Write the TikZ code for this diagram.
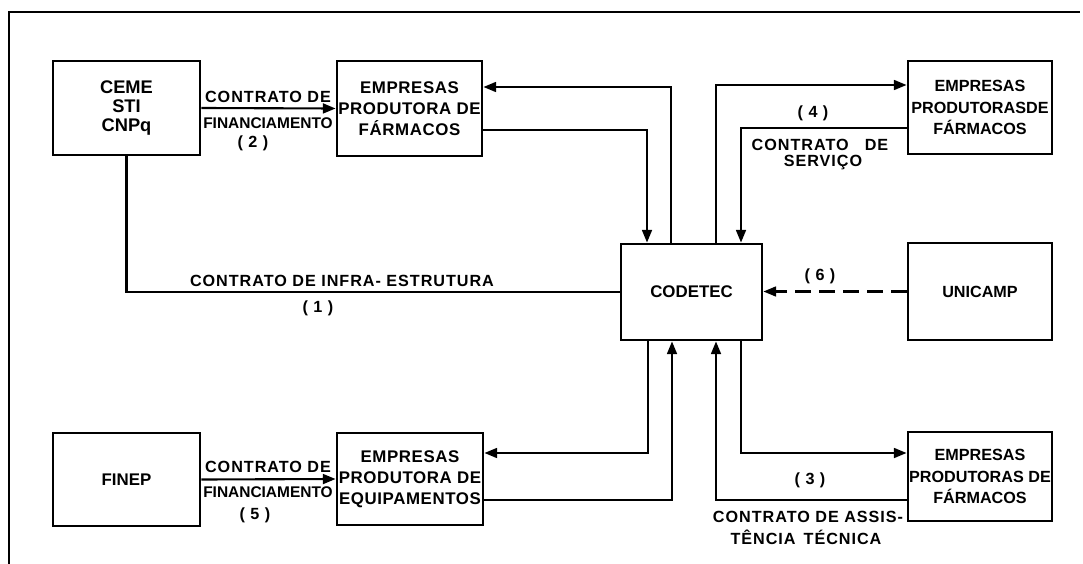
\documentclass[tikz,border=0pt]{standalone}
\usepackage{fontspec}
\setmainfont{Liberation Sans}
\newfontfamily\largofont[LetterSpace=6]{Liberation Sans}
\newfontfamily\caixafont[LetterSpace=3.5]{Liberation Sans}
\usetikzlibrary{calc,positioning,arrows.meta}

\begin{document}
\begin{tikzpicture}[x=0.025cm,y=-0.025cm,
    caixa/.style={draw,line width=2pt,align=center,inner sep=0pt,
        font=\caixafont\fontsize{12}{15}\selectfont\bfseries},
    caixaestreita/.style={caixa,font=\fontsize{11.5}{15}\selectfont\bfseries},
    rotulo/.style={inner sep=0pt,align=center,font=\largofont\fontsize{11.5}{13}\selectfont\bfseries},
    apertado/.style={inner sep=0pt,font=\fontsize{11}{13}\selectfont\bfseries},
    linha/.style={line width=1.5pt},
    seta/.style={line width=1.5pt,-{Triangle[length=9pt,width=7pt]}}]

    \useasboundingbox (0,0) rectangle (1083,564);
    \draw[line width=1.5pt](9,564) -- (9,12) -- (1080,12);

    \node[caixa,minimum width=3.675cm,minimum height=2.35cm,
        font=\fontsize{13}{13.5}\selectfont\bfseries] (ceme) at (126.5,108) {CEME\\STI\\CNPq};
    \node[caixa,minimum width=3.625cm,minimum height=2.375cm] (farm) at (409.5,108.5) {EMPRESAS\\PRODUTORA DE\\FÁRMACOS};
    \node[caixaestreita,minimum width=3.6cm,minimum height=2.325cm] (farmdir) at (980,107.5) {EMPRESAS\\PRODUTORASDE\\FÁRMACOS};
    \node[caixa,minimum width=3.525cm,minimum height=2.4cm,
        font=\fontsize{12}{14}\selectfont\bfseries] (codetec) at (691.5,292) {CODETEC};
    \node[caixa,minimum width=3.6cm,minimum height=2.425cm,
        font=\fontsize{11.5}{14}\selectfont\bfseries] (unicamp) at (980,291.5) {UNICAMP};
    \node[caixa,minimum width=3.675cm,minimum height=2.325cm,
        font=\fontsize{12}{14}\selectfont\bfseries] (finep) at (126.5,479.5) {FINEP};
    \node[caixa,minimum width=3.65cm,minimum height=2.3cm] (equip) at (410,479) {EMPRESAS\\PRODUTORA DE\\EQUIPAMENTOS};
    \node[caixaestreita,minimum width=3.6cm,minimum height=2.225cm] (farmbx) at (980,476.5) {EMPRESAS\\PRODUTORAS DE\\FÁRMACOS};

    \draw[seta](ceme.east) -- (farm.west);
    \draw[linha](ceme.south) |- (codetec.west);
    \draw[seta]($(farm.east)+(0,21.5)$) -| ($(codetec.north)+(-44.5,0)$);
    \draw[seta]($(codetec.north)+(-20.5,0)$) |- ($(farm.east)+(0,-21.5)$);
    \draw[seta]($(codetec.north)+(24.5,0)$) |- ($(farmdir.west)+(0,-22.5)$);
    \draw[seta]($(farmdir.west)+(0,20.5)$) -| ($(codetec.north)+(49.5,0)$);
    \draw[seta,dash pattern=on 11pt off 6pt](unicamp.west) -- (unicamp.west -| codetec.east);
    \draw[seta]($(codetec.south)+(-43.5,0)$) |- ($(equip.east)+(0,-26)$);
    \draw[seta]($(equip.east)+(0,21)$) -| ($(codetec.south)+(-19.5,0)$);
    \draw[seta]($(codetec.south)+(49.5,0)$) |- ($(farmbx.west)+(0,-23.5)$);
    \draw[seta]($(farmbx.west)+(0,23.5)$) -| ($(codetec.south)+(24.5,0)$);
    \draw[seta](finep.east) -- (equip.west);

    \node[rotulo] (c2a) at (268,97) {CONTRATO DE};
    \node[apertado] (c2b) at (268,123) {FINANCIAMENTO};
    \node[rotulo] (c2n) at (253,143) {( 2 )};
    \node[rotulo] (c1a) at (342,281) {CONTRATO DE INFRA- ESTRUTURA};
    \node[rotulo] (c1n) at (318,308) {( 1 )};
    \node[rotulo] (c4n) at (813,113) {( 4 )};
    \node[rotulo] (c4a) at (820,145) {CONTRATO\quad DE};
    \node[rotulo] (c4b) at (823,163) {SERVIÇO};
    \node[rotulo] (c6n) at (820,276) {( 6 )};
    \node[rotulo] (c3n) at (810,480) {( 3 )};
    \node[rotulo] (c3a) at (808,517) {CONTRATO DE ASSIS-};
    \node[rotulo] (c3b) at (806,537) {TÊNCIA\enspace TÉCNICA};
    \node[rotulo] (c5a) at (268,467) {CONTRATO DE};
    \node[apertado] (c5b) at (268,492) {FINANCIAMENTO};
    \node[rotulo] (c5n) at (255,515) {( 5 )};
\end{tikzpicture}
\end{document}
